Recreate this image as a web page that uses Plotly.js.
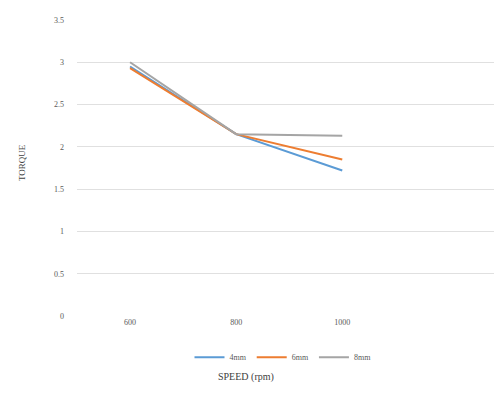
<!DOCTYPE html>
<html>
<head>
<meta charset="utf-8">
<script src="https://cdn.plot.ly/plotly-3.0.1.min.js"></script>
<style>html,body{margin:0;padding:0;background:#fff;}#chart{width:494px;height:394px;}</style>
</head>
<body>
<div id="chart"></div>
<script>
const speeds = ['600', '800', '1000'];
const seriesNames = ['4mm', '6mm', '8mm'];
const torque4mm = [2.95, 2.15, 1.72];
const torque6mm = [2.93, 2.15, 1.85];
const torque8mm = [3.00, 2.15, 2.13];
const yTicks = [0, 0.5, 1, 1.5, 2, 2.5, 3, 3.5];
const yTickText = ['0', '0.5', '1', '1.5', '2', '2.5', '3', '3.5'];

const colors = ['#5B9BD5', '#ED7D31', '#A5A5A5'];
const idx = speeds.map((s, i) => i);
const allSeries = [torque4mm, torque6mm, torque8mm];

const traces = allSeries.map((ys, k) => ({
  x: idx, y: ys, type: 'scatter', mode: 'lines', name: seriesNames[k],
  line: {color: colors[k], width: 2}
}));

const tickFont = {family: 'Liberation Serif, serif', size: 8, color: '#595959'};
const layout = {
  width: 494, height: 394,
  margin: {l: 77, r: 0, t: 20, b: 78},
  paper_bgcolor: '#fff', plot_bgcolor: '#fff',
  showlegend: true,
  legend: {orientation: 'h', x: 0.494, xanchor: 'center', y: -0.139, yanchor: 'middle',
    font: {family: 'Liberation Serif, serif', size: 8, color: '#595959'}, itemwidth: 30, tracegroupgap: 0},
  xaxis: {range: [-0.5, 3.43], tickvals: idx, ticktext: speeds, showgrid: false, zeroline: false,
    showline: false, ticks: '', tickfont: tickFont, fixedrange: true},
  yaxis: {range: [0, 3.5], tickvals: yTicks, ticktext: yTickText, showgrid: true, gridcolor: '#E0E0E0',
    gridwidth: 1, zeroline: false, showline: false, ticks: '', tickfont: tickFont, ticklabelstandoff: 12},
  annotations: [
    {text: 'SPEED (rpm)', xref: 'paper', yref: 'paper', x: 0.405, y: -0.206, xanchor: 'center', yanchor: 'middle',
      showarrow: false, font: {family: 'Liberation Serif, serif', size: 10, color: '#404040'}},
    {text: 'TORQUE', xref: 'paper', yref: 'paper', x: -0.132, y: 0.52, xanchor: 'center', yanchor: 'middle',
      textangle: -90, showarrow: false, font: {family: 'Liberation Serif, serif', size: 9, color: '#404040'}}
  ]
};
Plotly.newPlot('chart', traces, layout, {displayModeBar: false, staticPlot: true});
</script>
</body>
</html>
